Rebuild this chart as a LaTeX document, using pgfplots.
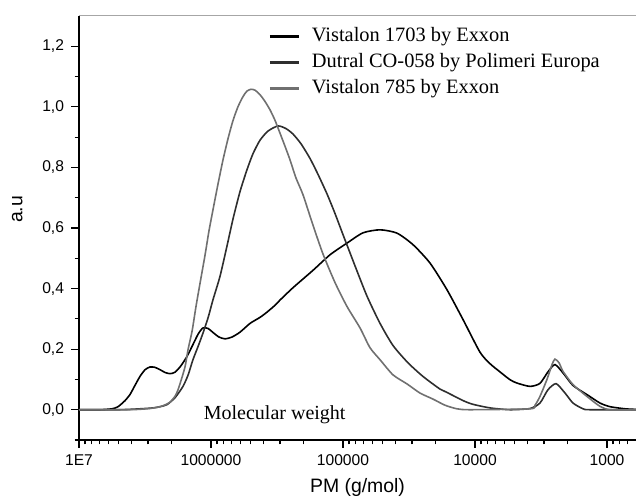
\documentclass[border=0pt]{standalone}
\usepackage{fontspec}
\setmainfont{Liberation Serif}
\setsansfont{Liberation Sans}
\usepackage{pgfplots}
\pgfplotsset{compat=1.18}
\usepackage{pgfplotstable}

\definecolor{cDut}{HTML}{2E2E2E}
\definecolor{cVsf}{HTML}{707070}

\pgfplotstableread{
M v
1e7 0
6.93e6 0
5.62e6 0.003
5.06e6 0.01
4.48e6 0.03
4.11e6 0.05
3.77e6 0.08
3.45e6 0.11
3.16e6 0.132
2.90e6 0.141
2.66e6 0.14
2.43e6 0.132
2.23e6 0.123
2.04e6 0.119
1.87e6 0.124
1.69e6 0.145
1.52e6 0.176
1.37e6 0.215
1.25e6 0.25
1.15e6 0.27
1.05e6 0.268
9.66e5 0.255
8.70e5 0.24
7.83e5 0.234
6.93e5 0.24
6.03e5 0.256
5.06e5 0.285
4.25e5 0.305
3.77e5 0.322
3.27e5 0.345
3.00e5 0.362
2.39e5 0.403
1.69e5 0.46
1.25e5 0.512
9.33e4 0.55
7.06e4 0.584
5.24e4 0.594
3.90e4 0.583
2.95e4 0.545
2.19e4 0.484
1.63e4 0.396
1.23e4 0.297
9.17e3 0.19
7.70e3 0.152
6.47e3 0.125
5.43e3 0.099
4.81e3 0.088
3.83e3 0.077
3.22e3 0.087
2.80e3 0.125
2.48e3 0.149
2.15e3 0.121
1.81e3 0.08
1.42e3 0.05
1.13e3 0.022
949 0.01
730 0.003
603 0.001
}\tVa

\pgfplotstableread{
M v
1e7 0
4.89e6 0
2.90e6 0.005
2.43e6 0.01
2.15e6 0.017
1.87e6 0.04
1.63e6 0.077
1.49e6 0.115
1.37e6 0.165
1.25e6 0.21
1.15e6 0.253
1.05e6 0.305
9.66e5 0.363
8.55e5 0.44
7.57e5 0.54
6.81e5 0.63
6.03e5 0.72
5.34e5 0.792
4.81e5 0.845
4.25e5 0.89
3.70e5 0.92
3.11e5 0.937
2.70e5 0.928
2.39e5 0.91
2.08e5 0.878
1.78e5 0.83
1.55e5 0.778
1.32e5 0.712
1.15e5 0.648
1.00e5 0.578
8.85e4 0.518
8.11e4 0.475
6.58e4 0.375
5.24e4 0.285
4.18e4 0.212
3.22e4 0.155
2.48e4 0.11
1.84e4 0.068
1.63e4 0.057
1.23e4 0.03
1.04e4 0.018
7.70e3 0.006
5.43e3 0.0
3.83e3 0.004
3.22e3 0.022
2.80e3 0.066
2.43e3 0.086
2.08e3 0.055
1.81e3 0.022
1.52e3 0.003
1.35e3 0
603 0
}\tDu

\pgfplotstableread{
M v
1e7 0
4.11e6 0
2.90e6 0.004
2.43e6 0.01
2.23e6 0.016
2.04e6 0.025
1.87e6 0.045
1.78e6 0.065
1.69e6 0.095
1.57e6 0.143
1.49e6 0.2
1.39e6 0.26
1.30e6 0.34
1.21e6 0.418
1.11e6 0.51
1.036e6 0.59
9.66e5 0.66
8.85e5 0.745
8.11e5 0.825
7.43e5 0.895
6.81e5 0.955
6.25e5 1.0
5.72e5 1.034
5.34e5 1.052
4.98e5 1.058
4.64e5 1.055
4.25e5 1.04
3.90e5 1.018
3.57e5 0.99
3.27e5 0.955
3.00e5 0.913
2.75e5 0.87
2.52e5 0.825
2.27e5 0.765
2.01e5 0.71
1.69e5 0.61
1.42e5 0.515
1.15e5 0.42
9.33e4 0.341
7.43e4 0.27
6.25e4 0.205
5.24e4 0.165
4.18e4 0.115
3.27e4 0.085
2.61e4 0.055
2.08e4 0.035
1.69e4 0.015
1.37e4 0.003
1.09e4 0
3.83e3 0.003
3.51e3 0.015
3.22e3 0.044
2.85e3 0.1
2.61e3 0.149
2.48e3 0.167
2.31e3 0.155
2.15e3 0.126
1.81e3 0.083
1.42e3 0.044
1.13e3 0.011
949 0
603 0
}\tVb

\begin{document}
\begin{tikzpicture}
\begin{axis}[
  scale only axis,
  width=278.5pt, height=212pt,
  xmode=log, x dir=reverse,
  xmin=603, xmax=1e7,
  ymin=-0.1, ymax=1.3,
  axis lines=left,
  axis line style={-, line width=0.8pt},
  tick align=outside,
  major tick length=4pt,
  minor tick length=2.2pt,
  every tick/.style={black, line width=0.6pt},
  xtick={1e3,1e4,1e5,1e6,1e7},
  xticklabels={1000,10000,100000,1000000,1E7},
  minor xtick={700,800,900,2000,3000,4000,5000,6000,7000,8000,9000,
    20000,30000,40000,50000,60000,70000,80000,90000,
    200000,300000,400000,500000,600000,700000,800000,900000,
    2000000,3000000,4000000,5000000,6000000,7000000,8000000,9000000},
  ytick={0,0.2,0.4,0.6,0.8,1.0,1.2},
  minor ytick={-0.1,0.1,0.3,0.5,0.7,0.9,1.1},
  /pgf/number format/assume math mode=true,
  yticklabel style={/pgf/number format/.cd, use comma, fixed, fixed zerofill, precision=1},
  tick label style={font=\sffamily\fontsize{7.8}{9}\selectfont},
  xlabel={PM (g/mol)},
  ylabel={a.u},
  label style={font=\sffamily\fontsize{9.7}{11}\selectfont},
  xlabel style={at={(axis description cs:0.5,-0.113)}, anchor=center},
  ylabel style={at={(axis description cs:-0.111,0.544)}, anchor=center, rotate=0},
  legend style={draw=none, fill=none, at={(axis description cs:0.3286,0.993)},
    anchor=north west, font=\fontsize{10.2}{12}\selectfont,
    nodes={text height=7pt, text depth=2pt, inner sep=2pt}},
  legend cell align=left,
  legend image code/.code={\draw[#1, line width=1.5pt] (0pt,0pt) -- (14.5pt,0pt);
    \path[draw=none, fill=none] (0pt,0pt) -- (19pt,0pt);},
  clip=false,
]
\draw[black!35, line width=0.5pt] (rel axis cs:0,1) -- (rel axis cs:1,1);
\addplot[black, line width=0.8pt, smooth, tension=0.4] table[x=M, y=v] {\tVa};
\addlegendentry{Vistalon 1703 by Exxon}
\addplot[cDut, line width=0.8pt, smooth, tension=0.4] table[x=M, y=v] {\tDu};
\addlegendentry{Dutral CO-058 by Polimeri Europa}
\addplot[cVsf, line width=0.8pt, smooth, tension=0.4] table[x=M, y=v] {\tVb};
\addlegendentry{Vistalon 785 by Exxon}
\node[anchor=base west, font=\fontsize{10}{12}\selectfont, inner sep=0pt] at (axis cs:1.14e6,-0.033) {Molecular weight};
\end{axis}
\pgfresetboundingbox
\path[use as bounding box] (-39.5pt,-30.5pt) rectangle (278.5pt,220pt);
\end{tikzpicture}
\end{document}
